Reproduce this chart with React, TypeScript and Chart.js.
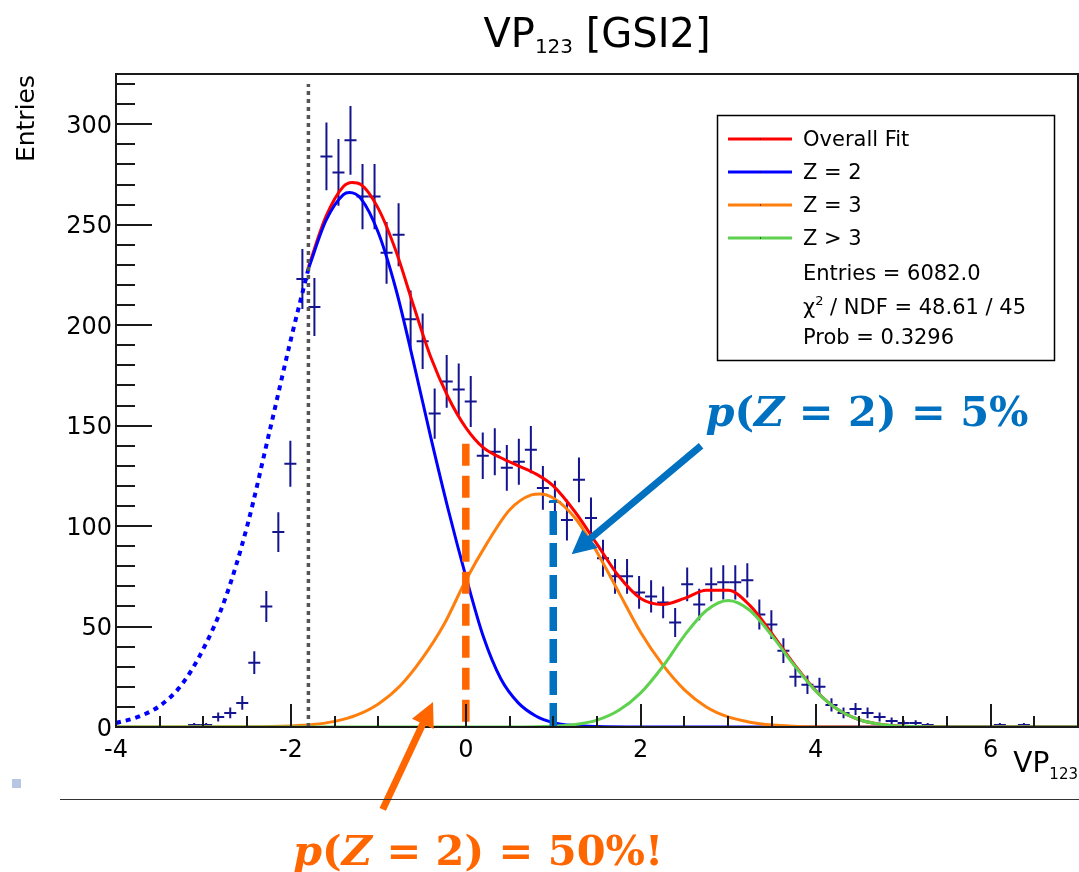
import React, { useEffect, useRef } from 'react';
import { Chart, registerables } from 'chart.js';

Chart.register(...registerables);

// ---------------- axes ----------------
const X_MIN = -4;
const X_MAX = 7;
const Y_MIN = 0;
const Y_MAX = 325;
const xMajorTicks = [-4, -2, 0, 2, 4, 6];
const xTickLabels = ['-4', '-2', '0', '2', '4', '6'];
const X_MINOR_STEP = 0.5;
const yMajorTicks = [0, 50, 100, 150, 200, 250, 300];
const yTickLabels = ['0', '50', '100', '150', '200', '250', '300'];
const Y_MINOR_STEP = 10;

// ---------------- histogram (VP123, 80 bins from -4 to 7) ----------------
const HIST_BINS = 80;
const binCounts = [
  0, 0, 0, 0, 0, 0, 1, 1, 5, 7,
  12, 32, 60, 97, 131, 223, 209, 284, 276, 292,
  264, 264, 236, 245, 203, 192, 156, 172, 168, 162,
  135, 137, 129, 132, 138, 119, 112, 103, 123, 104,
  84, 75, 75, 67, 65, 62, 52, 71, 61, 71,
  72, 72, 73, 56, 51, 38, 25, 21, 20, 11,
  7, 9, 7, 5, 3, 2, 2, 1, 0, 0,
  0, 0, 0, 1, 0, 1, 0, 0, 0, 0,
];

// ---------------- fit curves ----------------
const z2ExtrapX = [-4, -3.75, -3.5, -3.25, -3, -2.75, -2.5, -2.25, -2, -1.8];
const z2ExtrapY = [2, 5, 10.5, 21, 39, 64, 100, 146, 193, 228];

const z2FitX = [-1.8, -1.6, -1.4, -1.33, -1.2, -1.0, -0.8, -0.6, -0.4, -0.2, 0, 0.2, 0.4, 0.6, 0.8, 1.0, 1.25, 1.5, 2.0, 7];
const z2FitY = [228, 252, 265, 266, 263, 246, 218, 182, 144, 108, 75, 45, 24, 12, 5.5, 2.2, 0.7, 0.2, 0, 0];

const z3FitX = [-4, -2.5, -2, -1.75, -1.5, -1.25, -1, -0.75, -0.5, -0.25, 0, 0.25, 0.5, 0.75, 0.85, 1.0, 1.25, 1.5, 1.75, 2.0, 2.25, 2.5, 2.75, 3.0, 3.25, 3.5, 3.75, 4.0, 4.5, 7];
const z3FitY = [0, 0.1, 0.5, 1.2, 2.8, 5.9, 11.5, 20.5, 34, 51, 73, 92, 108, 115.5, 116, 114, 104, 87, 67, 47, 31, 18.5, 10, 5, 2.4, 1, 0.4, 0.15, 0, 0];

const zgt3FitX = [-4, 0.5, 1.0, 1.25, 1.5, 1.75, 2.0, 2.25, 2.5, 2.75, 3.0, 3.25, 3.5, 3.75, 4.0, 4.25, 4.5, 4.75, 5.0, 5.5, 7];
const zgt3FitY = [0, 0, 0.35, 1.2, 3.4, 8.3, 17, 30, 45.5, 58, 63, 58, 45.5, 31, 18, 8.8, 3.6, 1.3, 0.4, 0.05, 0];

const totalFitX = [-1.8, -1.6, -1.4, -1.3, -1.2, -1.0, -0.8, -0.6, -0.4, -0.2, 0, 0.2, 0.4, 0.6, 0.8, 1.0, 1.25, 1.5, 1.75, 2.0, 2.25, 2.5, 2.75, 3.0, 3.25, 3.5, 3.75, 4.0, 4.25, 4.5, 4.75, 5.0, 5.5, 7];
const totalFitY = [229, 254, 269, 271, 270, 258, 237, 210, 184, 164, 149, 139, 134, 130, 126, 120, 107, 91, 75, 64, 61, 64, 68, 68, 60.4, 46.5, 31.5, 18.2, 8.8, 3.6, 1.3, 0.4, 0.05, 0];

// ---------------- markers / annotations (data coordinates) ----------------
const CUT_X = -1.8;
const CUT_TOP = 320;
const MARK50_X = 0;
const MARK50_TOP = 141;
const MARK5_X = 1.0;
const MARK5_TOP = 113;
const blueArrow = { x0: 2.69, y0: 140, x1: 1.21, y1: 86 };
const orangeArrow = { x0: -0.95, y0: -41, x1: -0.375, y1: 12.4 };
const blueNote = { x: 2.74, y: 150 };
const orangeNote = { x: -1.976, y: -68.8 };

// ---------------- legend / stats text ----------------
const legendLabels = ['Overall Fit', 'Z = 2', 'Z = 3', 'Z > 3'];
const statEntries = 'Entries = 6082.0';
const statChi = ' / NDF = 48.61 / 45';
const statProb = 'Prob = 0.3296';

const RED = '#ff0000';
const BLUE = '#0000ff';
const ORANGE = '#ff7f0e';
const GREEN = '#5ed24e';
const HIST_COLOR = '#14148f';
const NOTE_BLUE = '#0070c0';
const NOTE_ORANGE = '#ff6600';
const legendColors = [RED, BLUE, ORANGE, GREEN];

const SANS = '"DejaVu Sans", sans-serif';
const SERIF = '"DejaVu Serif", serif';

type Run = { text: string; font: string; dy?: number };

function runsWidth(ctx: CanvasRenderingContext2D, runs: Run[]) {
  let w = 0;
  for (const r of runs) {
    ctx.font = r.font;
    w += ctx.measureText(r.text).width;
  }
  return w;
}

function drawRuns(ctx: CanvasRenderingContext2D, runs: Run[], x: number, y: number) {
  let cx = x;
  ctx.textAlign = 'left';
  ctx.textBaseline = 'alphabetic';
  for (const r of runs) {
    ctx.font = r.font;
    ctx.fillText(r.text, cx, y + (r.dy || 0));
    cx += ctx.measureText(r.text).width;
  }
  return cx;
}

function drawArrow(ctx: CanvasRenderingContext2D, ax: number, ay: number, bx: number, by: number, color: string) {
  const dx = bx - ax;
  const dy = by - ay;
  const len = Math.hypot(dx, dy);
  const ux = dx / len;
  const uy = dy / len;
  const headLen = 24;
  const headHalf = 12;
  ctx.save();
  ctx.strokeStyle = color;
  ctx.fillStyle = color;
  ctx.lineWidth = 7;
  ctx.lineCap = 'butt';
  ctx.beginPath();
  ctx.moveTo(ax, ay);
  ctx.lineTo(bx - ux * headLen * 0.8, by - uy * headLen * 0.8);
  ctx.stroke();
  ctx.beginPath();
  ctx.moveTo(bx, by);
  ctx.lineTo(bx - ux * headLen - uy * headHalf, by - uy * headLen + ux * headHalf);
  ctx.lineTo(bx - ux * headLen + uy * headHalf, by - uy * headLen - ux * headHalf);
  ctx.closePath();
  ctx.fill();
  ctx.restore();
}

const rootPlugin = {
  id: 'rootStyle',
  beforeDatasetsDraw(chart: any) {
    const { ctx, chartArea: a } = chart;
    const xs = chart.scales.x;
    const ys = chart.scales.y;
    const w = (X_MAX - X_MIN) / HIST_BINS;
    const pts = chart.data.datasets[chart.data.datasets.length - 1].data as { x: number; y: number }[];
    ctx.save();
    ctx.beginPath();
    ctx.rect(a.left, a.top, a.right - a.left, a.bottom - a.top);
    ctx.clip();
    ctx.strokeStyle = HIST_COLOR;
    ctx.lineWidth = 2;
    for (const p of pts) {
      if (p.y <= 0) continue;
      const err = Math.sqrt(p.y);
      const cx = xs.getPixelForValue(p.x);
      const yc = ys.getPixelForValue(p.y);
      ctx.beginPath();
      ctx.moveTo(xs.getPixelForValue(p.x - w / 2), yc);
      ctx.lineTo(xs.getPixelForValue(p.x + w / 2), yc);
      ctx.moveTo(cx, ys.getPixelForValue(p.y - err));
      ctx.lineTo(cx, ys.getPixelForValue(p.y + err));
      ctx.stroke();
    }
    ctx.restore();
  },
  afterDatasetsDraw(chart: any) {
    const { ctx, chartArea: a } = chart;
    const xs = chart.scales.x;
    const ys = chart.scales.y;
    ctx.save();
    // cut line (grey dotted)
    ctx.strokeStyle = '#555555';
    ctx.lineWidth = 3.5;
    ctx.setLineDash([4, 4]);
    ctx.beginPath();
    ctx.moveTo(xs.getPixelForValue(CUT_X), ys.getPixelForValue(0));
    ctx.lineTo(xs.getPixelForValue(CUT_X), ys.getPixelForValue(CUT_TOP));
    ctx.stroke();
    // orange dashed marker (top down)
    ctx.strokeStyle = NOTE_ORANGE;
    ctx.lineWidth = 7.5;
    ctx.setLineDash([22, 10]);
    ctx.beginPath();
    ctx.moveTo(xs.getPixelForValue(MARK50_X), ys.getPixelForValue(MARK50_TOP));
    ctx.lineTo(xs.getPixelForValue(MARK50_X), ys.getPixelForValue(0));
    ctx.stroke();
    // blue dashed marker (bottom up)
    ctx.strokeStyle = NOTE_BLUE;
    ctx.lineWidth = 7.5;
    ctx.setLineDash([24, 8]);
    ctx.beginPath();
    ctx.moveTo(xs.getPixelForValue(MARK5_X), ys.getPixelForValue(0));
    ctx.lineTo(xs.getPixelForValue(MARK5_X), ys.getPixelForValue(MARK5_TOP));
    ctx.stroke();
    ctx.setLineDash([]);

    // frame
    ctx.strokeStyle = '#1a1a1a';
    ctx.lineWidth = 2;
    ctx.strokeRect(a.left, a.top, a.right - a.left, a.bottom - a.top);

    // y ticks
    ctx.lineWidth = 2;
    ctx.beginPath();
    for (let v = Y_MIN; v <= Y_MAX + 1e-9; v += Y_MINOR_STEP) {
      const py = Math.round(ys.getPixelForValue(v));
      const major = yMajorTicks.includes(v);
      ctx.moveTo(a.left, py);
      ctx.lineTo(a.left + (major ? 36 : 19), py);
    }
    // x ticks
    for (let v = X_MIN; v <= X_MAX + 1e-9; v += X_MINOR_STEP) {
      const px = Math.round(xs.getPixelForValue(v));
      const major = xMajorTicks.includes(v);
      ctx.moveTo(px, a.bottom);
      ctx.lineTo(px, a.bottom - (major ? 23 : 11));
    }
    ctx.stroke();

    // tick labels
    ctx.fillStyle = '#000';
    ctx.font = '24px ' + SANS;
    ctx.textBaseline = 'alphabetic';
    ctx.textAlign = 'right';
    yMajorTicks.forEach((v, i) => {
      ctx.fillText(yTickLabels[i], a.left - 4, ys.getPixelForValue(v) + 8.5);
    });
    ctx.textAlign = 'center';
    xMajorTicks.forEach((v, i) => {
      ctx.fillText(xTickLabels[i], xs.getPixelForValue(v), a.bottom + 30);
    });

    // arrows
    drawArrow(ctx, xs.getPixelForValue(blueArrow.x0), ys.getPixelForValue(blueArrow.y0),
      xs.getPixelForValue(blueArrow.x1), ys.getPixelForValue(blueArrow.y1), NOTE_BLUE);
    drawArrow(ctx, xs.getPixelForValue(orangeArrow.x0), ys.getPixelForValue(orangeArrow.y0),
      xs.getPixelForValue(orangeArrow.x1), ys.getPixelForValue(orangeArrow.y1), NOTE_ORANGE);
    ctx.restore();
  },
  afterDraw(chart: any) {
    const { ctx, chartArea: a } = chart;
    const xs = chart.scales.x;
    const ys = chart.scales.y;
    ctx.save();
    ctx.fillStyle = '#000';

    // title
    const titleRuns: Run[] = [
      { text: 'VP', font: '40px ' + SANS },
      { text: '123', font: '20px ' + SANS, dy: 6 },
      { text: ' [GSI2]', font: '40px ' + SANS },
    ];
    const tw = runsWidth(ctx, titleRuns);
    drawRuns(ctx, titleRuns, (a.left + a.right) / 2 - tw / 2, 47);

    // x axis title
    const xtRuns: Run[] = [
      { text: 'VP', font: '28px ' + SANS },
      { text: '123', font: '15px ' + SANS, dy: 7 },
    ];
    const xw = runsWidth(ctx, xtRuns);
    drawRuns(ctx, xtRuns, a.right - xw, 772);

    // y axis title
    ctx.save();
    ctx.translate(34, a.top + 1);
    ctx.rotate(-Math.PI / 2);
    ctx.font = '25px ' + SANS;
    ctx.textAlign = 'right';
    ctx.textBaseline = 'alphabetic';
    ctx.fillText('Entries', 0, 0);
    ctx.restore();

    // legend box
    const lx = 717.5;
    const ly = 115.5;
    ctx.fillStyle = '#fff';
    ctx.fillRect(lx, ly, 337, 245);
    ctx.strokeStyle = '#000';
    ctx.lineWidth = 1.5;
    ctx.strokeRect(lx, ly, 337, 245);
    const rowY = [139, 172, 205, 238];
    legendLabels.forEach((lab, i) => {
      ctx.strokeStyle = legendColors[i];
      ctx.lineWidth = 3;
      ctx.beginPath();
      ctx.moveTo(728, rowY[i]);
      ctx.lineTo(792, rowY[i]);
      ctx.stroke();
      ctx.fillStyle = '#000';
      ctx.fillRect(760, rowY[i] - 0.5, 1, 1);
      ctx.font = '21px ' + SANS;
      ctx.textAlign = 'left';
      ctx.textBaseline = 'alphabetic';
      ctx.fillText(lab, 803, rowY[i] + 6.5);
    });
    ctx.fillStyle = '#000';
    ctx.font = '21px ' + SANS;
    ctx.fillText(statEntries, 803, 279.5);
    drawRuns(ctx, [
      { text: '\u03c7', font: '21px ' + SANS },
      { text: '2', font: '13px ' + SANS, dy: -9 },
      { text: statChi, font: '21px ' + SANS },
    ], 803, 314);
    ctx.font = '21px ' + SANS;
    ctx.fillText(statProb, 803, 343.5);

    // annotation texts
    const bi = 'italic bold 41.5px ' + SERIF;
    const b = 'bold 41.5px ' + SERIF;
    ctx.fillStyle = NOTE_BLUE;
    drawRuns(ctx, [
      { text: 'p', font: bi }, { text: '(', font: b }, { text: 'Z', font: bi },
      { text: ' = 2) = 5%', font: b },
    ], xs.getPixelForValue(blueNote.x), ys.getPixelForValue(blueNote.y));
    ctx.fillStyle = NOTE_ORANGE;
    drawRuns(ctx, [
      { text: 'p', font: bi }, { text: '(', font: b }, { text: 'Z', font: bi },
      { text: ' = 2) = 50%!', font: b },
    ], xs.getPixelForValue(orangeNote.x), ys.getPixelForValue(orangeNote.y));

    ctx.restore();
  },
};

function pts(xv: number[], yv: number[]) {
  return xv.map((x, i) => ({ x, y: yv[i] }));
}

export default function App() {
  const ref = useRef<HTMLCanvasElement | null>(null);

  useEffect(() => {
    if (!ref.current) return;
    const w = (X_MAX - X_MIN) / HIST_BINS;
    const histPts = binCounts.map((c, i) => ({ x: X_MIN + (i + 0.5) * w, y: c }));
    const line = (label: string, data: any, color: string, extra: any = {}) => ({
      label, data, borderColor: color, backgroundColor: color, borderWidth: 3,
      pointRadius: 0, fill: false, cubicInterpolationMode: 'monotone', ...extra,
    });
    const chart = new Chart(ref.current, {
      type: 'line',
      data: {
        datasets: [
          line('Z > 3', pts(zgt3FitX, zgt3FitY), GREEN),
          line('Z = 3', pts(z3FitX, z3FitY), ORANGE),
          line('Z = 2', pts(z2FitX, z2FitY), BLUE),
          line('Z = 2 (extrapolated)', pts(z2ExtrapX, z2ExtrapY), BLUE, { borderDash: [5, 5], borderWidth: 4 }),
          line('Overall Fit', pts(totalFitX, totalFitY), RED),
          { label: 'Data', data: histPts, showLine: false, pointRadius: 0, borderWidth: 0 },
        ],
      } as any,
      options: {
        responsive: false,
        animation: false,
        devicePixelRatio: 1,
        events: [],
        layout: { padding: { left: 116, right: 1, top: 74, bottom: 145 } },
        scales: {
          x: { type: 'linear', min: X_MIN, max: X_MAX, display: false },
          y: { type: 'linear', min: Y_MIN, max: Y_MAX, display: false },
        },
        plugins: { legend: { display: false }, title: { display: false }, tooltip: { enabled: false } },
      } as any,
      plugins: [rootPlugin as any],
    });
    return () => chart.destroy();
  }, []);

  return (
    <div style={{ position: 'absolute', left: 0, top: 0, width: 1079, height: 872, background: '#fff', overflow: 'hidden' }}>
      <canvas ref={ref} width={1079} height={872} style={{ display: 'block', width: 1079, height: 872 }} />
      <div style={{ position: 'absolute', left: 60, top: 799, width: 1019, height: 0, borderTop: '1.5px solid #333' }} />
      <div style={{ position: 'absolute', left: 12, top: 779, width: 9, height: 9, background: '#b7c7e3' }} />
    </div>
  );
}
